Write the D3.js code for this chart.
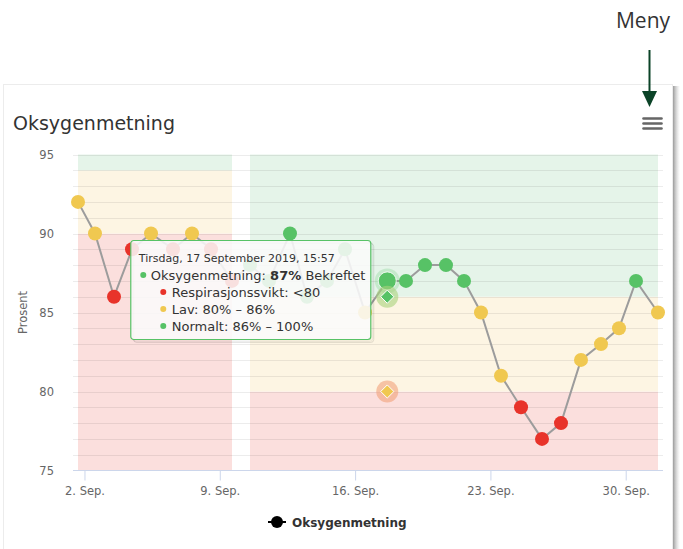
<!DOCTYPE html>
<html>
<head>
<meta charset="utf-8">
<script src="https://cdn.jsdelivr.net/npm/d3@7"></script>
<style>
  html, body { margin: 0; padding: 0; background: #ffffff; }
  svg { display: block; }
  text { font-family: "DejaVu Sans", "Noto Sans", sans-serif; }
</style>
</head>
<body>
<svg id="chart" width="683" height="549"></svg>
<script>
// ---------------- DATA ----------------
const chartTitle = "Oksygenmetning";
const yAxisTitle = "Prosent";
const seriesName = "Oksygenmetning";
const menuLabel = "Meny";

const times = [
  "2019-09-01T15:57", "2019-09-02T13:03", "2019-09-03T12:39", "2019-09-04T11:01",
  "2019-09-05T10:36", "2019-09-06T13:55", "2019-09-07T13:30", "2019-09-08T13:06",
  "2019-09-09T15:10", "2019-09-10T13:30", "2019-09-11T13:06", "2019-09-12T15:10",
  "2019-09-13T12:17", "2019-09-14T13:08", "2019-09-15T11:28", "2019-09-16T12:19",
  "2019-09-17T15:57", "2019-09-18T15:11", "2019-09-19T14:47", "2019-09-20T16:52",
  "2019-09-21T15:13", "2019-09-22T12:19", "2019-09-23T13:09", "2019-09-24T14:00",
  "2019-09-25T16:03", "2019-09-26T15:39", "2019-09-27T16:29", "2019-09-28T17:18",
  "2019-09-29T15:40", "2019-09-30T12:46", "2019-10-01T16:05"
];
const values = [92, 90, 86, 89, 90, 89, 90, 89, 87, 88, 87, 90, 86, 87, 89, 85,
                87, 87, 88, 88, 87, 85, 81, 79, 77, 78, 82, 83, 84, 87, 85];
const pointLevels = ["lav", "lav", "svikt", "svikt", "lav", "svikt", "lav", "svikt",
                     "svikt", "normalt", "normalt", "normalt", "normalt", "normalt", "normalt", "lav",
                     "normalt", "normalt", "normalt", "normalt", "normalt", "lav", "lav", "svikt",
                     "svikt", "svikt", "lav", "lav", "lav", "normalt", "lav"];

// threshold zones (background bands)
const zoneStarts = ["2019-09-01T15:57", "2019-09-10T13:30"];
const zoneEnds   = ["2019-09-09T15:10", "2019-10-01T16:05"];
const zoneSvikt   = [[75, 90], [75, 80]];
const zoneLav     = [[90, 94], [80, 86]];
const zoneNormalt = [[94, 95], [86, 95]];

// hovered point and tooltip
const hoverIndex = 16;
const hoverExtraValues = [86, 80];
const hoverExtraLevels = ["normalt", "lav"];
const tooltipHeader = "Tirsdag, 17 September 2019, 15:57";
const tooltipValueText = "87%";
const tooltipStatus = " Bekreftet";
const tooltipRangeLevels = ["svikt", "lav", "normalt"];
const tooltipRangeLabels = ["Respirasjonssvikt: <80", "Lav: 80% \u2013 86%", "Normalt: 86% \u2013 100%"];

const yDomain = [75, 95];
const yMajorTicks = [75, 80, 85, 90, 95];

// ---------------- STYLE ----------------
const markerColor = { svikt: "#e8332a", lav: "#f0c850", normalt: "#57c266" };
const bandColor   = { svikt: "#fbdfdd", lav: "#fdf5e3", normalt: "#e5f4e9" };

const parse = d3.timeParse("%Y-%m-%dT%H:%M");
const data = times.map((t, i) => ({ date: parse(t), value: values[i], level: pointLevels[i] }));

const svg = d3.select("#chart");
const W = 683, H = 549;
const plot = { left: 73, right: 663, top: 154.5, bottom: 470.5 };

// ---------------- CARD & ANNOTATION ----------------
const defs = svg.append("defs");
const sg = defs.append("linearGradient").attr("id", "shadowR").attr("x1", 0).attr("x2", 1);
sg.append("stop").attr("offset", 0).attr("stop-color", "#7a7a7a").attr("stop-opacity", 0.75);
sg.append("stop").attr("offset", 1).attr("stop-color", "#bbbbbb").attr("stop-opacity", 0);

svg.append("rect").attr("x", 0).attr("y", 0).attr("width", W).attr("height", H).attr("fill", "#fff");
svg.append("rect").attr("x", 673).attr("y", 86).attr("width", 7).attr("height", H - 86)
  .attr("fill", "url(#shadowR)");
svg.append("rect").attr("x", 3.5).attr("y", 84.5).attr("width", 669).attr("height", 480)
  .attr("fill", "#fff").attr("stroke", "#ececec").attr("stroke-width", 1);

svg.append("text").attr("x", 643).attr("y", 28).attr("text-anchor", "middle")
  .style("font-family", "'Open Sans', sans-serif").style("font-size", "21px")
  .attr("fill", "#333").text(menuLabel);
svg.append("line").attr("x1", 649.5).attr("x2", 649.5).attr("y1", 50).attr("y2", 94)
  .attr("stroke", "#0b4327").attr("stroke-width", 2);
svg.append("path").attr("d", "M642,91 L657,91 L649.5,107 Z").attr("fill", "#0b4327");

// title
svg.append("text").attr("x", 13).attr("y", 130).style("font-size", "19px")
  .attr("fill", "#333").text(chartTitle);

// menu icon
[118.5, 123.5, 128.5].forEach(yy => {
  svg.append("line").attr("x1", 643.5).attr("x2", 661.5).attr("y1", yy).attr("y2", yy)
    .attr("stroke", "#666").attr("stroke-width", 2.6).attr("stroke-linecap", "round");
});

// ---------------- SCALES ----------------
const x = d3.scaleTime()
  .domain(d3.extent(data, d => d.date))
  .range([plot.left + 5, plot.right - 5]);
const y = d3.scaleLinear().domain(yDomain).range([plot.bottom, plot.top]);

// ---------------- BANDS ----------------
const bandG = svg.append("g");
zoneStarts.forEach((s, i) => {
  const x0 = x(parse(s)), x1 = x(parse(zoneEnds[i]));
  [["svikt", zoneSvikt[i]], ["lav", zoneLav[i]], ["normalt", zoneNormalt[i]]].forEach(([lvl, r]) => {
    bandG.append("rect").attr("x", x0).attr("width", x1 - x0)
      .attr("y", y(r[1])).attr("height", y(r[0]) - y(r[1]))
      .attr("fill", bandColor[lvl]);
  });
});

// ---------------- GRID ----------------
const gridG = svg.append("g");
d3.range(yDomain[0] + 1, yDomain[1] + 1).forEach(v => {
  gridG.append("line").attr("x1", plot.left).attr("x2", plot.right)
    .attr("y1", Math.round(y(v)) + 0.5).attr("y2", Math.round(y(v)) + 0.5)
    .attr("stroke", "#000").attr("stroke-opacity", 0.075).attr("stroke-width", 1);
});

// y labels
svg.append("g").selectAll("text").data(yMajorTicks).join("text")
  .attr("x", 54).attr("y", d => y(d)).attr("dy", "0.36em").attr("text-anchor", "end")
  .style("font-size", "11.5px").attr("fill", "#666").text(d => d);

svg.append("text").attr("transform", `translate(27,${(plot.top + plot.bottom) / 2}) rotate(-90)`)
  .attr("text-anchor", "middle").style("font-size", "11.5px").attr("fill", "#666").text(yAxisTitle);

// x axis
const xAxis = d3.axisBottom(x).ticks(d3.timeMonday.every(1))
  .tickFormat(d3.timeFormat("%-d. %b.")).tickSize(10).tickSizeOuter(0).tickPadding(6);
const xg = svg.append("g").attr("transform", `translate(0,${plot.bottom})`).call(xAxis);
xg.select(".domain").remove();
xg.selectAll(".tick line").attr("stroke", "#ccd6eb");
xg.selectAll(".tick text").attr("fill", "#666").style("font-size", "11.5px")
  .style("font-family", "'DejaVu Sans', sans-serif");
svg.append("line").attr("x1", plot.left).attr("x2", plot.right)
  .attr("y1", plot.bottom).attr("y2", plot.bottom).attr("stroke", "#ccd6eb").attr("stroke-width", 1);

// ---------------- SERIES ----------------
const line = d3.line().x(d => x(d.date)).y(d => y(d.value));
svg.append("path").datum(data).attr("d", line).attr("fill", "none")
  .attr("stroke", "#9c9c9c").attr("stroke-width", 2);

svg.append("g").selectAll("circle").data(data.filter((d, i) => i !== hoverIndex)).join("circle")
  .attr("cx", d => x(d.date)).attr("cy", d => y(d.value)).attr("r", 7)
  .attr("fill", d => markerColor[d.level]);

// hovered point
const hp = data[hoverIndex];
const hx = x(hp.date), hy = y(hp.value);
svg.append("circle").attr("cx", hx).attr("cy", hy).attr("r", 12.5)
  .attr("fill", markerColor[hp.level]).attr("fill-opacity", 0.22);
svg.append("circle").attr("cx", hx).attr("cy", hy).attr("r", 9)
  .attr("fill", markerColor[hp.level]).attr("stroke", "#fff").attr("stroke-width", 0.8);

// extra hover diamonds
const haloColor = { normalt: "#a9d27c", lav: "#f2a27a", svikt: "#f08080" };
hoverExtraValues.forEach((v, i) => {
  const lvl = hoverExtraLevels[i];
  svg.append("circle").attr("cx", hx).attr("cy", y(v)).attr("r", 11)
    .attr("fill", haloColor[lvl]).attr("fill-opacity", 0.6);
  svg.append("path").attr("transform", `translate(${hx},${y(v)})`)
    .attr("d", d3.symbol(d3.symbolDiamond2, 110)())
    .attr("fill", markerColor[lvl]).attr("stroke", "#fff").attr("stroke-width", 1);
});

// ---------------- TOOLTIP ----------------
const tw = 240, th = 99;
const tx = hx - 256.5, ty = 240.5;
const tg = svg.append("g").attr("transform", `translate(${tx},${ty})`);
[3, 2, 1].forEach(k => {
  tg.append("rect").attr("x", k).attr("y", k).attr("width", tw).attr("height", th).attr("rx", 3)
    .attr("fill", "none").attr("stroke", "#000").attr("stroke-opacity", 0.05 * k / 1.5).attr("stroke-width", 1);
});
tg.append("rect").attr("width", tw).attr("height", th).attr("rx", 3)
  .attr("fill", "#fafafa").attr("fill-opacity", 0.87)
  .attr("stroke", markerColor[hp.level]).attr("stroke-width", 1.2);

tg.append("text").attr("x", 8).attr("y", 21).style("font-size", "11px").attr("fill", "#333")
  .text(tooltipHeader);
tg.append("circle").attr("cx", 12.5).attr("cy", 34.5).attr("r", 3).attr("fill", markerColor[hp.level]);
const l2 = tg.append("text").attr("x", 20).attr("y", 39).style("font-size", "13px").attr("fill", "#333");
l2.append("tspan").text(seriesName + ": ");
l2.append("tspan").style("font-weight", "bold").text(tooltipValueText);
l2.append("tspan").text(tooltipStatus);
tooltipRangeLabels.forEach((lab, i) => {
  const yy = 56 + i * 17;
  tg.append("circle").attr("cx", 32.5).attr("cy", yy - 4.5).attr("r", 3)
    .attr("fill", markerColor[tooltipRangeLevels[i]]);
  tg.append("text").attr("x", 41).attr("y", yy).style("font-size", "13px").attr("fill", "#333").text(lab);
});

// ---------------- LEGEND ----------------
const lg = svg.append("g");
lg.append("line").attr("x1", 268).attr("x2", 286).attr("y1", 522).attr("y2", 522)
  .attr("stroke", "#000").attr("stroke-width", 2);
lg.append("circle").attr("cx", 277).attr("cy", 522).attr("r", 6).attr("fill", "#000");
lg.append("text").attr("x", 292).attr("y", 526.5).style("font-size", "12px").style("font-weight", "bold")
  .attr("fill", "#333").text(seriesName);
</script>
</body>
</html>
